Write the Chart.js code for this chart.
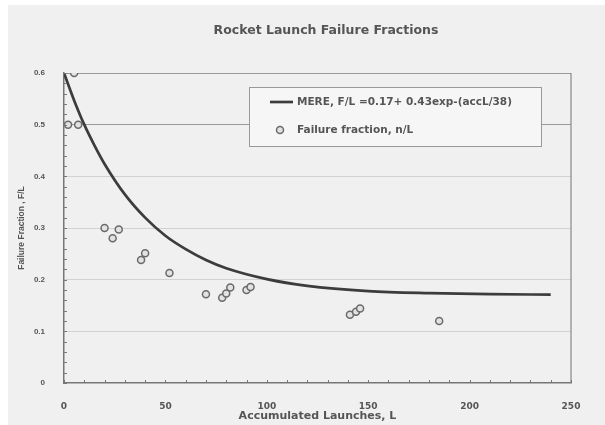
<!DOCTYPE html>
<html>
<head>
<meta charset="utf-8">
<script src="https://cdn.jsdelivr.net/npm/chart.js@4/dist/chart.umd.min.js"></script>
<style>
  html, body { margin: 0; padding: 0; background: #fff; }
  #wrap { width: 605px; height: 425px; }
</style>
</head>
<body>
<div id="wrap"><canvas id="c" width="605" height="425"></canvas></div>
<script>
// Observed failure fractions n/L versus accumulated launches L
const launches = [2, 5, 7, 20, 24, 27, 38, 40, 52, 70, 78, 80, 82, 90, 92, 141, 144, 146, 185];
const failureFraction = [0.5, 0.6, 0.5, 0.30, 0.28, 0.297, 0.238, 0.251, 0.213, 0.172, 0.165, 0.173, 0.185, 0.18, 0.186, 0.132, 0.138, 0.144, 0.12];

// MERE fitted curve, F/L = 0.17 + 0.43 exp(-L/38), sampled along L
const fitLaunches = [0, 5, 10, 15, 20, 30, 40, 50, 60, 70, 80, 100, 120, 150, 180, 210, 240];
const fitFraction = [0.600, 0.547, 0.500, 0.460, 0.424, 0.365, 0.320, 0.285, 0.259, 0.238, 0.222, 0.201, 0.188, 0.178, 0.174, 0.172, 0.171];

const xTicks = [0, 50, 100, 150, 200, 250];
const yTicks = [0, 0.1, 0.2, 0.3, 0.4, 0.5, 0.6];

const chartTitle = 'Rocket Launch Failure Fractions';
const fitLabel = 'MERE, F/L =0.17+ 0.43exp-(accL/38)';
const pointLabel = 'Failure fraction, n/L';

const TEXT = '#555';
const WIDE = '"DejaVu Sans", sans-serif';
const NARROW = '"Liberation Sans", Arial, sans-serif';

const pageBackground = {
  id: 'pageBackground',
  beforeDraw(chart) {
    const ctx = chart.ctx;
    ctx.save();
    ctx.fillStyle = '#ffffff';
    ctx.fillRect(0, 0, chart.width, chart.height);
    ctx.fillStyle = '#f0f0f0';
    ctx.fillRect(8, 5, chart.width - 8, chart.height - 5);
    ctx.restore();
  }
};

const frameAndTicks = {
  id: 'frameAndTicks',
  afterDraw(chart) {
    const ctx = chart.ctx;
    const { left, right, top, bottom } = chart.chartArea;
    const xs = chart.scales.x, ys = chart.scales.y;
    ctx.save();
    // right border of the plot frame
    ctx.strokeStyle = '#888';
    ctx.lineWidth = 1.2;
    ctx.beginPath();
    ctx.moveTo(right, top);
    ctx.lineTo(right, bottom);
    ctx.stroke();
    // inward tick marks along both axes
    ctx.strokeStyle = '#777';
    ctx.lineWidth = 1;
    ctx.beginPath();
    for (let v = 0; v <= 250; v += 10) {
      const px = Math.round(xs.getPixelForValue(v)) + 0.5;
      ctx.moveTo(px, bottom);
      ctx.lineTo(px, bottom - 3);
    }
    for (let i = 0; i <= 30; i++) {
      const py = Math.round(ys.getPixelForValue(i * 0.02)) + 0.5;
      ctx.moveTo(left, py);
      ctx.lineTo(left + 3, py);
    }
    ctx.stroke();
    // chart title
    ctx.fillStyle = TEXT;
    ctx.font = 'bold 12.5px ' + WIDE;
    ctx.textAlign = 'center';
    ctx.textBaseline = 'middle';
    ctx.fillText(chartTitle, 326, 31);
    ctx.restore();
  }
};

const boxedLegend = {
  id: 'boxedLegend',
  afterDraw(chart) {
    const ctx = chart.ctx;
    const x0 = 249, y0 = 87, w = 292, h = 59;
    ctx.save();
    ctx.fillStyle = '#f6f6f6';
    ctx.fillRect(x0, y0, w, h);
    ctx.strokeStyle = '#999';
    ctx.lineWidth = 1;
    ctx.strokeRect(x0 + 0.5, y0 + 0.5, w, h);
    const ds = chart.data.datasets;
    // fitted curve entry
    ctx.strokeStyle = ds[0].borderColor;
    ctx.lineWidth = ds[0].borderWidth;
    ctx.beginPath();
    ctx.moveTo(270, 102);
    ctx.lineTo(293, 102);
    ctx.stroke();
    // observed points entry
    ctx.beginPath();
    ctx.arc(280, 130, ds[1].pointRadius, 0, Math.PI * 2);
    ctx.fillStyle = ds[1].pointBackgroundColor;
    ctx.fill();
    ctx.strokeStyle = ds[1].pointBorderColor;
    ctx.lineWidth = ds[1].pointBorderWidth;
    ctx.stroke();
    ctx.fillStyle = TEXT;
    ctx.font = 'bold 10.5px ' + WIDE;
    ctx.textAlign = 'left';
    ctx.textBaseline = 'middle';
    ctx.fillText(ds[0].label, 297, 102);
    ctx.fillText(ds[1].label, 297, 130);
    ctx.restore();
  }
};

new Chart(document.getElementById('c'), {
  type: 'scatter',
  data: {
    datasets: [
      {
        label: fitLabel,
        data: fitLaunches.map((x, i) => ({ x, y: fitFraction[i] })),
        showLine: true,
        borderColor: '#3c3c3c',
        borderWidth: 2.7,
        pointRadius: 0,
        cubicInterpolationMode: 'monotone',
        order: 2
      },
      {
        label: pointLabel,
        data: launches.map((x, i) => ({ x, y: failureFraction[i] })),
        showLine: false,
        pointRadius: 3.5,
        pointBorderWidth: 1.5,
        pointBorderColor: '#6a6a6a',
        pointBackgroundColor: '#e2e2e2',
        order: 1
      }
    ]
  },
  options: {
    responsive: false,
    animation: false,
    devicePixelRatio: 1,
    layout: { padding: { left: 0, right: 34, top: 73, bottom: 0 } },
    plugins: {
      legend: { display: false },
      title: { display: false },
      tooltip: { enabled: false }
    },
    scales: {
      x: {
        type: 'linear',
        min: 0,
        max: 250,
        afterBuildTicks: s => { s.ticks = xTicks.map(v => ({ value: v })); },
        afterFit: s => { s.height = 42; },
        grid: { display: false },
        border: { display: true, color: '#777', width: 1.5 },
        ticks: {
          padding: 10,
          color: TEXT,
          font: { family: WIDE, size: 9, weight: 'bold' },
          callback: v => String(v)
        },
        title: {
          display: true,
          text: 'Accumulated Launches, L',
          color: TEXT,
          font: { family: WIDE, size: 11, weight: 'bold' },
          padding: { top: 0, bottom: 2 }
        }
      },
      y: {
        type: 'linear',
        min: 0,
        max: 0.6,
        afterBuildTicks: s => { s.ticks = yTicks.map(v => ({ value: v })); },
        afterFit: s => { s.width = 64; },
        grid: {
          drawTicks: false,
          lineWidth: 1,
          color: c => (c.tick && c.tick.value >= 0.5 ? '#9a9a9a' : (c.tick && c.tick.value === 0 ? 'rgba(0,0,0,0)' : '#d2d2d2'))
        },
        border: { display: true, color: '#777', width: 1.5 },
        ticks: {
          padding: 19,
          color: TEXT,
          font: { family: NARROW, size: 8, weight: 'bold' },
          callback: v => (v === 0 ? '0' : Number(v).toFixed(1))
        },
        title: {
          display: true,
          text: 'Failure Fraction , F/L',
          color: TEXT,
          font: { family: NARROW, size: 8.5, weight: 'bold' },
          padding: { top: 17, bottom: 0 }
        }
      }
    }
  },
  plugins: [pageBackground, frameAndTicks, boxedLegend]
});
</script>
</body>
</html>
